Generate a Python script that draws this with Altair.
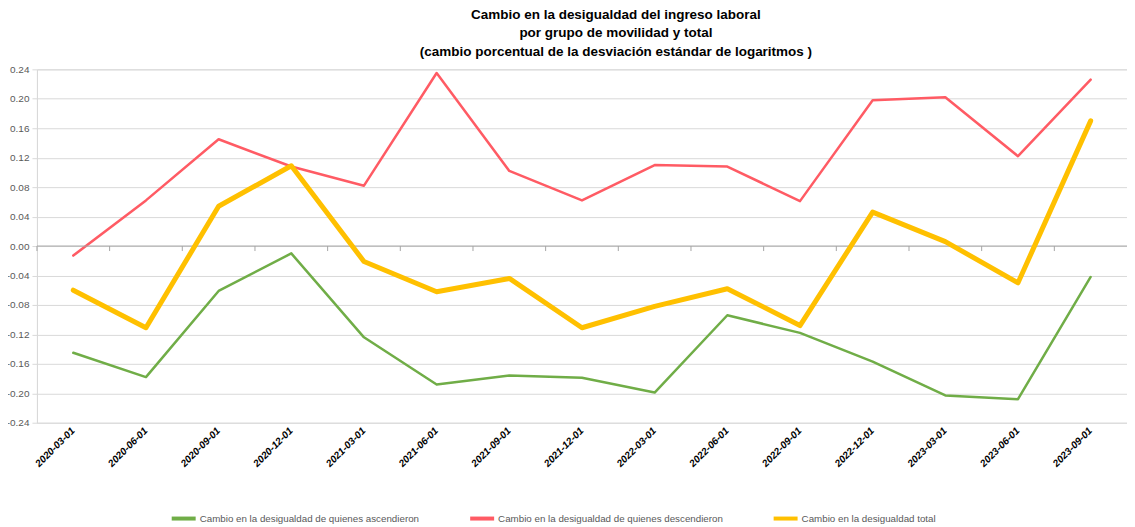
import altair as alt
import pandas as pd

fechas = ["2020-03-01", "2020-06-01", "2020-09-01", "2020-12-01", "2021-03-01",
          "2021-06-01", "2021-09-01", "2021-12-01", "2022-03-01", "2022-06-01",
          "2022-09-01", "2022-12-01", "2023-03-01", "2023-06-01", "2023-09-01"]
ascendieron = [-0.145, -0.178, -0.061, -0.010, -0.124, -0.188, -0.176, -0.179,
               -0.199, -0.094, -0.118, -0.157, -0.203, -0.208, -0.042]
descendieron = [-0.013, 0.062, 0.145, 0.108, 0.082, 0.235, 0.102, 0.062,
                0.110, 0.108, 0.061, 0.198, 0.202, 0.122, 0.226]
total = [-0.060, -0.111, 0.054, 0.109, -0.021, -0.062, -0.044, -0.111,
         -0.082, -0.058, -0.108, 0.046, 0.006, -0.050, 0.170]
series = ["Cambio en la desigualdad de quienes ascendieron",
          "Cambio en la desigualdad de quienes descendieron",
          "Cambio en la desigualdad total"]
colores = ["#70AD47", "#FF5B64", "#FFC000"]
yticks = [-0.24, -0.20, -0.16, -0.12, -0.08, -0.04, 0.00, 0.04, 0.08, 0.12, 0.16, 0.20, 0.24]
titulo = ["Cambio en la desigualdad del ingreso laboral",
          "por grupo de movilidad y total",
          "(cambio porcentual de la desviación estándar de logaritmos )"]

rows = []
for s, vals in zip(series, [ascendieron, descendieron, total]):
    for f, v in zip(fechas, vals):
        rows.append({"fecha": f, "serie": s, "valor": v})
df = pd.DataFrame(rows)
cats = pd.DataFrame({"fecha": fechas})
df_total = pd.DataFrame({"fecha": fechas, "valor": total})

FONT = "Liberation Sans"
x_scale = alt.Scale(type="band", domain=fechas, paddingInner=0, paddingOuter=0)
y_scale = alt.Scale(domain=[-0.24, 0.24], nice=False, zero=False)

x_axis = alt.Axis(labelAngle=-45, labelAlign="right", labelBaseline="middle",
                  labelFontStyle="italic", labelFontWeight="bold", labelFontSize=10,
                  labelColor="#000000", labelFont=FONT, ticks=False, domain=False,
                  grid=False, labelPadding=6, labelOverlap=False)
y_axis = alt.Axis(values=yticks, labelExpr="replace(format(datum.value, '.2f'), '\u2212', '-')",
                  labelFontSize=10, labelColor="#595959", labelFont=FONT,
                  grid=True, gridColor="#D9D9D9", gridWidth=1, labelOverlap=False,
                  domain=True, domainColor="#D9D9D9", ticks=True, tickColor="#D9D9D9",
                  tickSize=5, labelPadding=3, tickCount=13)

lines = alt.Chart(df).mark_line(strokeWidth=2.5, strokeCap="round", strokeJoin="round").encode(
    x=alt.X("fecha:N", scale=x_scale, bandPosition=0.5, title=None, sort=fechas, axis=x_axis),
    y=alt.Y("valor:Q", scale=y_scale, title=None, axis=y_axis),
    color=alt.Color("serie:N", scale=alt.Scale(domain=series, range=colores),
                    legend=alt.Legend(title=None, orient="none", legendX=133, legendY=436,
                                      direction="horizontal", symbolType="stroke",
                                      symbolSize=576, symbolStrokeWidth=4,
                                      labelFontSize=9.8, labelColor="#595959", labelFont=FONT,
                                      columnPadding=42, labelLimit=500, labelOffset=2)),
)

thick_total = alt.Chart(df_total).mark_line(strokeWidth=5, color=colores[2],
                                            strokeCap="round", strokeJoin="round").encode(
    x=alt.X("fecha:N", scale=x_scale, bandPosition=0.5, sort=fechas, title=None, axis=x_axis),
    y=alt.Y("valor:Q", scale=y_scale, title=None, axis=y_axis),
)

zero = alt.Chart(pd.DataFrame({"v": [0]})).mark_rule(color="#A6A6A6", strokeWidth=1).encode(
    y=alt.Y("v:Q", scale=y_scale, title=None, axis=y_axis)
)
ticks = alt.Chart(cats).mark_rule(color="#A6A6A6", strokeWidth=1).encode(
    x=alt.X("fecha:N", scale=x_scale, bandPosition=0, sort=fechas, title=None, axis=x_axis),
    y=alt.Y(datum=0, type="quantitative", scale=y_scale, title=None, axis=y_axis),
    y2=alt.datum(-0.0068),
)

chart = alt.layer(lines, zero, ticks, thick_total).properties(
    width=1092, height=354,
    autosize=alt.AutoSizeParams(type="none"),
    padding={"left": 29, "top": 61, "right": 0, "bottom": 104},
    title=alt.Title(titulo, fontSize=13.5, fontWeight="bold", font=FONT, color="#000000",
                    lineHeight=18.5, anchor="middle", dx=34, offset=6),
).configure_view(stroke=None).configure(background="white")

chart.save("out.html", embed_options={"renderer": "svg", "actions": False})
